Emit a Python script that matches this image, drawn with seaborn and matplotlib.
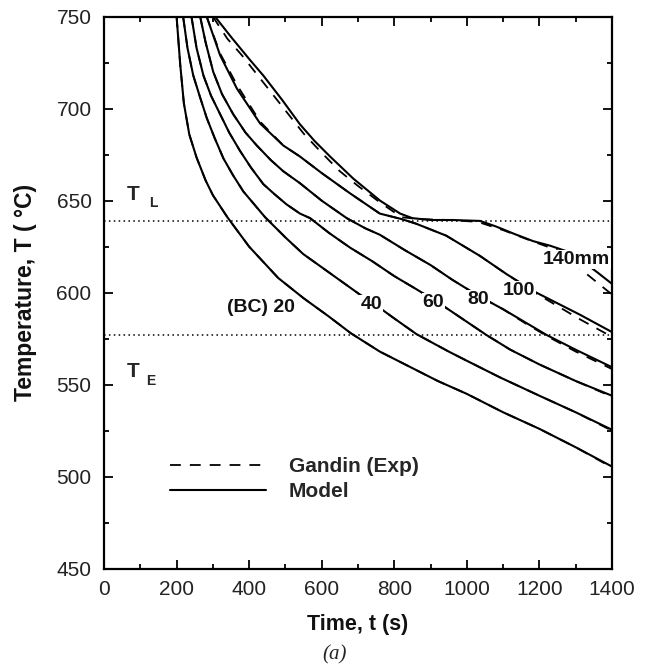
import matplotlib
matplotlib.use("Agg")
import matplotlib.pyplot as plt
import seaborn as sns
import numpy as np
from matplotlib.ticker import MultipleLocator

sns.set_theme(style="ticks")
plt.rcParams['font.family'] = ['Liberation Sans', 'DejaVu Sans']

# ---------------- data ----------------
# Model curves (solid)
t20 = [200, 210, 220, 235, 255, 280, 300, 340, 400, 480, 550, 620, 680, 760, 840, 920, 1000, 1100, 1200, 1300, 1400]
T20 = [750, 724, 703, 686, 673.5, 661, 653, 641, 625, 608, 597, 587, 578, 568, 560, 552, 545, 535, 526, 516, 505.5]

t40 = [218, 230, 246, 265, 283, 305, 329, 355, 384, 444, 500, 549, 620, 705, 751, 800, 861, 950, 1000, 1091, 1200, 1300, 1400]
T40 = [750, 733, 718, 706, 695, 684, 673, 664, 655, 641, 630, 621, 611, 599, 593, 586, 577.5, 568, 563, 554, 544, 535, 525.5]

t60 = [241, 255, 274, 295, 320, 345, 375, 405, 439, 470, 503, 540, 568, 620, 678, 740, 800, 860, 926, 990, 1054, 1120, 1200, 1300, 1400]
T60 = [750, 733, 718, 707, 697, 687, 677, 668, 659, 653.5, 648, 643, 640.5, 632.5, 624.5, 617, 609, 602, 594, 585.5, 577, 569, 561, 552, 544]

t80 = [265, 280, 301, 325, 356, 390, 421, 460, 494, 540, 600, 669, 720, 760, 830, 900, 960, 1030, 1100, 1160, 1220, 1300, 1400]
T80 = [750, 736, 720, 708, 697, 687, 680, 672, 666, 659.5, 650, 640.5, 635, 631.5, 623, 615, 607, 598.5, 591, 584, 577, 569, 559.5]

t100 = [283, 320, 366, 430, 494, 540, 600, 678, 760, 820, 860, 943, 1036, 1110, 1192, 1312, 1400]
T100 = [750, 729, 711, 692, 680, 674, 665, 654, 643, 640, 637.5, 631, 620, 610, 600, 588, 578.6]

t140 = [306, 350, 400, 439, 490, 540, 580, 623, 687, 761, 816, 850, 900, 960, 1036, 1080, 1130, 1183, 1230, 1275, 1320, 1360, 1400]
T140 = [750, 739, 727, 718, 705, 691.5, 682.5, 674, 662, 650, 643, 640.5, 639.5, 639.5, 639, 636, 632, 628, 625.5, 622.5, 617, 611, 604.8]

# Gandin experiment (dashed)
e_t20 = [200, 210, 220, 235, 255, 280, 300, 340, 400, 480, 550, 620, 680, 760, 840, 920, 1000, 1100, 1200, 1300, 1400]
e_T20 = [750, 724, 703, 686, 673.5, 661, 653, 641, 625, 608, 597, 587, 578, 568, 560, 552, 545, 535, 526, 516, 505]
e_t40 = [218, 230, 246, 265, 283, 305, 329, 355, 384, 444, 500, 549, 620, 705, 751, 800, 861, 950, 1000, 1091, 1200, 1300, 1400]
e_T40 = [750, 733, 718, 706, 695, 684, 673, 664, 655, 641, 630, 621, 611, 599, 593, 586, 577.5, 568, 563, 554, 544, 535, 525]
e_t60 = [241, 255, 274, 295, 320, 345, 375, 405, 439, 470, 503, 540, 568, 620, 678, 740, 800, 860, 926, 990, 1054, 1120, 1200, 1300, 1400]
e_T60 = [750, 733, 718, 707, 697, 687, 677, 668, 659, 653.5, 648, 643, 640.5, 632.5, 624.5, 617, 609, 602, 594, 585.5, 577, 569, 561, 552, 543.5]
e_t80 = [265, 280, 301, 325, 356, 390, 421, 460, 494, 540, 600, 669, 720, 760, 830, 900, 960, 1030, 1100, 1160, 1220, 1300, 1400]
e_T80 = [750, 736, 720, 708, 697, 687, 680, 672, 666, 659.5, 650, 640.5, 635, 631.5, 623, 615, 607, 598.5, 591, 583.5, 576.5, 568, 558.5]
e_t100 = [283, 320, 366, 430, 494, 540, 600, 678, 760, 820, 860, 943, 1036, 1110, 1192, 1312, 1400]
e_T100 = [750, 730, 713, 693, 680, 674, 665, 654, 643, 640, 637.5, 631, 620, 610, 599.5, 585.5, 576]
e_t140 = [300, 340, 380, 420, 460, 500, 550, 600, 650, 700, 761, 820, 870, 950, 1030, 1100, 1180, 1250, 1300, 1350, 1400]
e_T140 = [750, 738, 729, 719, 709, 699, 686.5, 676, 666, 658, 649, 641, 640, 639.5, 638.5, 634, 628, 623, 615, 607, 599]

T_L = 639
T_E = 577

curve_labels = ["(BC) 20", "40", "60", "80", "100", "140mm"]
label_t = [433, 736, 907, 1031, 1144, 1303]
label_T = [591.7, 593.6, 594.7, 596.3, 601.2, 618]

# ---------------- figure ----------------
fig = plt.figure(figsize=(6.53, 6.72), dpi=100)
ax = fig.add_axes([0.1593, 0.1537, 0.7779, 0.8215])

model = [(t20, T20), (t40, T40), (t60, T60), (t80, T80), (t100, T100), (t140, T140)]
exp = [(e_t20, e_T20), (e_t40, e_T40), (e_t60, e_T60), (e_t80, e_T80), (e_t100, e_T100), (e_t140, e_T140)]

for (tx, ty) in exp:
    sns.lineplot(x=tx, y=ty, ax=ax, color='black', lw=1.3, estimator=None, sort=False,
                 linestyle=(0, (6, 5)))
for (tx, ty) in model:
    sns.lineplot(x=tx, y=ty, ax=ax, color='black', lw=1.5, estimator=None, sort=False)

dash_handle = ax.get_lines()[0]
solid_handle = ax.get_lines()[len(exp)]

ax.axhline(T_L, color='black', lw=1.1, linestyle=(0, (1, 2.2)))
ax.axhline(T_E, color='black', lw=1.1, linestyle=(0, (1, 2.2)))

ax.set_xlim(0, 1400)
ax.set_ylim(450, 750)
ax.set_xticks(np.arange(0, 1401, 200))
ax.set_yticks(np.arange(450, 751, 50))
ax.xaxis.set_minor_locator(MultipleLocator(100))
ax.yaxis.set_minor_locator(MultipleLocator(25))
ax.tick_params(which='both', direction='in', top=True, right=True, width=1.3, color='black')
ax.tick_params(which='major', length=6.5, labelsize=15, labelcolor='#222222')
ax.tick_params(which='minor', length=3.5)
ax.tick_params(axis='x', which='major', pad=8)
ax.tick_params(axis='y', which='major', pad=9)
for s in ax.spines.values():
    s.set_linewidth(1.6)
    s.set_color('black')

ax.set_xlabel("Time, t (s)", fontsize=15.5, fontweight='bold', color='#111111')
ax.set_ylabel("Temperature, T ( °C)", fontsize=16.5, fontweight='bold', color='#111111')
ax.xaxis.set_label_coords(0.5, -0.082)
ax.yaxis.set_label_coords(-0.132, 0.5)

for lab, lt, lT in zip(curve_labels, label_t, label_T):
    ax.text(lt, lT, lab, fontsize=14, fontweight='bold', ha='center', va='center', color='#111111',
            bbox=dict(facecolor='white', edgecolor='none', pad=0.6), zorder=5)

# T_L and T_E labels
ax.text(80, 653.6, "T", fontsize=15, fontweight='bold', ha='center', va='center')
ax.text(136, 648.8, "L", fontsize=10, fontweight='bold', ha='center', va='center')
ax.text(80, 557.2, "T", fontsize=15, fontweight='bold', ha='center', va='center')
ax.text(130, 552.1, "E", fontsize=10, fontweight='bold', ha='center', va='center')

leg = ax.legend([dash_handle, solid_handle], ["Gandin (Exp)", "Model"],
                loc='upper left', bbox_to_anchor=(0.130, 0.2024), frameon=False,
                borderpad=0, borderaxespad=0, handlelength=4.6, handletextpad=1.1,
                labelspacing=0.3, prop={'size': 15, 'weight': 'bold'})

fig.text(335 / 653, 1 - 655 / 672, "(a)", fontsize=15, family='Liberation Serif',
         style='italic', ha='center', va='center')

fig.savefig("out.png", dpi=100)
